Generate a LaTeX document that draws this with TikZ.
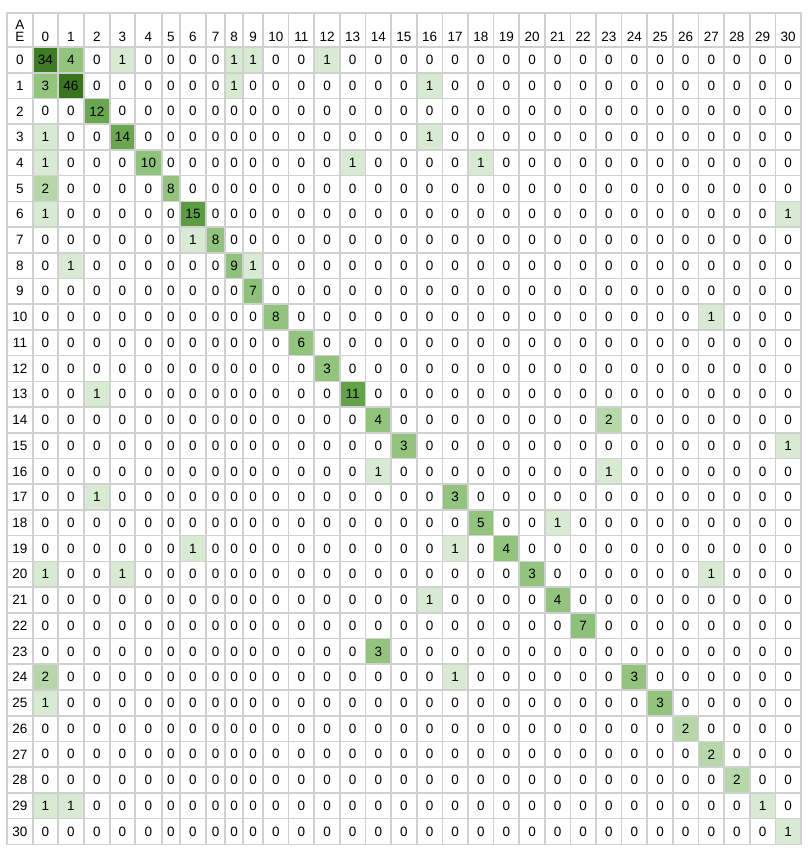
\documentclass[tikz,border=0pt]{standalone}
\usepackage{fontspec}
\setmainfont{Liberation Sans}
\usetikzlibrary{calc}
\definecolor{gridc}{HTML}{D0D0D0}
\definecolor{v1}{HTML}{D9EAD3}
\definecolor{v2}{HTML}{B6D7A8}
\definecolor{v3}{HTML}{93C47D}
\definecolor{v4}{HTML}{93C47D}
\definecolor{v5}{HTML}{93C47D}
\definecolor{v6}{HTML}{93C47D}
\definecolor{v7}{HTML}{8DC078}
\definecolor{v8}{HTML}{93C47D}
\definecolor{v9}{HTML}{8FC27A}
\definecolor{v10}{HTML}{8FC27A}
\definecolor{v11}{HTML}{62A348}
\definecolor{v12}{HTML}{6AA84F}
\definecolor{v14}{HTML}{6AA84F}
\definecolor{v15}{HTML}{5C9D42}
\definecolor{v34}{HTML}{3E7B23}
\definecolor{v46}{HTML}{38761D}
\newcommand\cmset[3]{\expandafter\xdef\csname cmv-#1-#2\endcsname{#3}}
\begin{document}
\begin{tikzpicture}[x=1pt,y=-1pt,
  cell/.style={font=\fontsize{13.5}{15}\selectfont, inner sep=0pt, anchor=center, text=black},
  headtxt/.style={font=\fontsize{13.5}{15}\selectfont, inner sep=0pt, anchor=base, text=black},
  gridline/.style={draw=gridc, line width=1.6pt, line cap=rect}]
\useasboundingbox (0,0) rectangle (808,850);
\fill[white] (0,0) rectangle (808,850);
% sparse non-zero values row/col/value
\foreach \rr/\cc/\vv in {0/0/34,0/1/4,0/3/1,0/8/1,0/9/1,0/12/1,
  1/0/3,1/1/46,1/8/1,1/16/1,
  2/2/12,
  3/0/1,3/3/14,3/16/1,
  4/0/1,4/4/10,4/13/1,4/18/1,
  5/0/2,5/5/8,
  6/0/1,6/6/15,6/30/1,
  7/6/1,7/7/8,
  8/1/1,8/8/9,8/9/1,
  9/9/7,
  10/10/8,10/27/1,
  11/11/6,
  12/12/3,
  13/2/1,13/13/11,
  14/14/4,14/23/2,
  15/15/3,15/30/1,
  16/14/1,16/23/1,
  17/2/1,17/17/3,
  18/18/5,18/21/1,
  19/6/1,19/17/1,19/19/4,
  20/0/1,20/3/1,20/20/3,20/27/1,
  21/16/1,21/21/4,
  22/22/7,
  23/14/3,
  24/0/2,24/17/1,24/24/3,
  25/0/1,25/25/3,
  26/26/2,
  27/27/2,
  28/28/2,
  29/0/1,29/1/1,29/29/1,
  30/30/1}{\cmset{\rr}{\cc}{\vv}}
% column borders
\foreach \xx [count=\ii from 0] in {7,33,58,84,110,135,162,180,206,225,243,263}
  \coordinate (X\ii) at (\xx,0);
\foreach \kk in {12,...,32}
  \coordinate (X\kk) at ({263+25.619*(\kk-11)},0);
% row borders
\coordinate (Y0) at (0,13);
\coordinate (Y1) at (0,47);
\foreach \kk in {2,...,32}
  \coordinate (Y\kk) at (0,{47+25.72*(\kk-1)});
% cells
\foreach \rr in {0,...,30}{
  \pgfmathtruncatemacro\ra{\rr+1}
  \pgfmathtruncatemacro\rb{\rr+2}
  \node[cell] (rl\rr) at ($(X0|-Y\ra)!0.5!(X1|-Y\rb)$) {\rr};
  \foreach \cc in {0,...,30}{
    \pgfmathtruncatemacro\ca{\cc+1}
    \pgfmathtruncatemacro\cb{\cc+2}
    \ifcsname cmv-\rr-\cc\endcsname
      \edef\val{\csname cmv-\rr-\cc\endcsname}
    \else
      \def\val{0}
    \fi
    \ifnum\val>0\relax
      \fill[v\val] (X\ca|-Y\ra) rectangle (X\cb|-Y\rb);
    \fi
    \node[cell] (n\rr-\cc) at ($(X\ca|-Y\ra)!0.5!(X\cb|-Y\rb)$) {\val};
  }
}
% header
\foreach \cc in {0,...,30}{
  \pgfmathtruncatemacro\ca{\cc+1}
  \pgfmathtruncatemacro\cb{\cc+2}
  \node[headtxt] (h\cc) at ($(X\ca)!0.5!(X\cb)+(0,42)$) {\cc};
}
\node[headtxt] (cornerA) at ($(X0)!0.5!(X1)+(0,30)$) {A};
\node[headtxt] (cornerE) at ($(X0)!0.5!(X1)+(0,42)$) {E};
% grid
\foreach \ii in {0,...,32}
  \draw[gridline] (X\ii|-Y0) -- (X\ii|-Y32);
\foreach \jj in {0,...,32}
  \draw[gridline] (X0|-Y\jj) -- (X32|-Y\jj);
\end{tikzpicture}
\end{document}
